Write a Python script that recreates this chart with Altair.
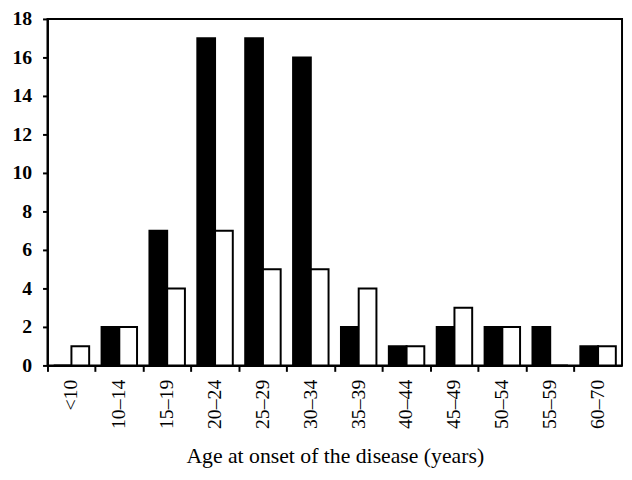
import altair as alt
import pandas as pd

categories = ["<10", "10–14", "15–19", "20–24", "25–29", "30–34",
              "35–39", "40–44", "45–49", "50–54", "55–59", "60–70"]
black_values = [0, 2, 7, 17, 17, 16, 2, 1, 2, 2, 2, 1]
white_values = [1, 2, 4, 7, 5, 5, 4, 1, 3, 2, 0, 1]
series = ["Black", "White"]

rows = []
for c, b, w in zip(categories, black_values, white_values):
    rows.append({"age": c, "group": series[0], "count": b})
    rows.append({"age": c, "group": series[1], "count": w})
df = pd.DataFrame(rows)

FONT = "Liberation Serif"

chart = alt.Chart(df).mark_bar(stroke="black", strokeWidth=2).encode(
    x=alt.X("age:N", sort=categories,
            scale=alt.Scale(domain=categories, paddingInner=0, paddingOuter=0),
            axis=alt.Axis(title="Age at onset of the disease (years)",
                          labelAngle=-90, bandPosition=0, tickSize=6,
                          labelPadding=8, titlePadding=17,
                          labelFontSize=20, titleFontSize=22,
                          labelFont=FONT, titleFont=FONT,
                          titleFontWeight="normal")),
    xOffset=alt.XOffset("group:N", sort=series,
                        scale=alt.Scale(domain=series, paddingInner=0, paddingOuter=0.35)),
    y=alt.Y("count:Q",
            scale=alt.Scale(domain=[0, 18], nice=False),
            axis=alt.Axis(title=None, values=list(range(0, 19, 2)), tickSize=5,
                          labelPadding=11, labelFontSize=20, labelFont=FONT,
                          labelFontWeight="bold", grid=False)),
    fill=alt.Fill("group:N", scale=alt.Scale(domain=series, range=["black", "white"]),
                  legend=None),
).properties(
    width=582, height=351,
    autosize=alt.AutoSizeParams(type="none"),
    padding={"left": 40, "top": 8, "right": 2, "bottom": 113}
).configure_view(
    stroke="black", strokeWidth=2
).configure_axis(
    domainColor="black", domainWidth=2, tickColor="black", tickWidth=2,
    labelColor="black", titleColor="black", grid=False
)

chart.save("out.html", embed_options={"renderer": "svg", "actions": False})
